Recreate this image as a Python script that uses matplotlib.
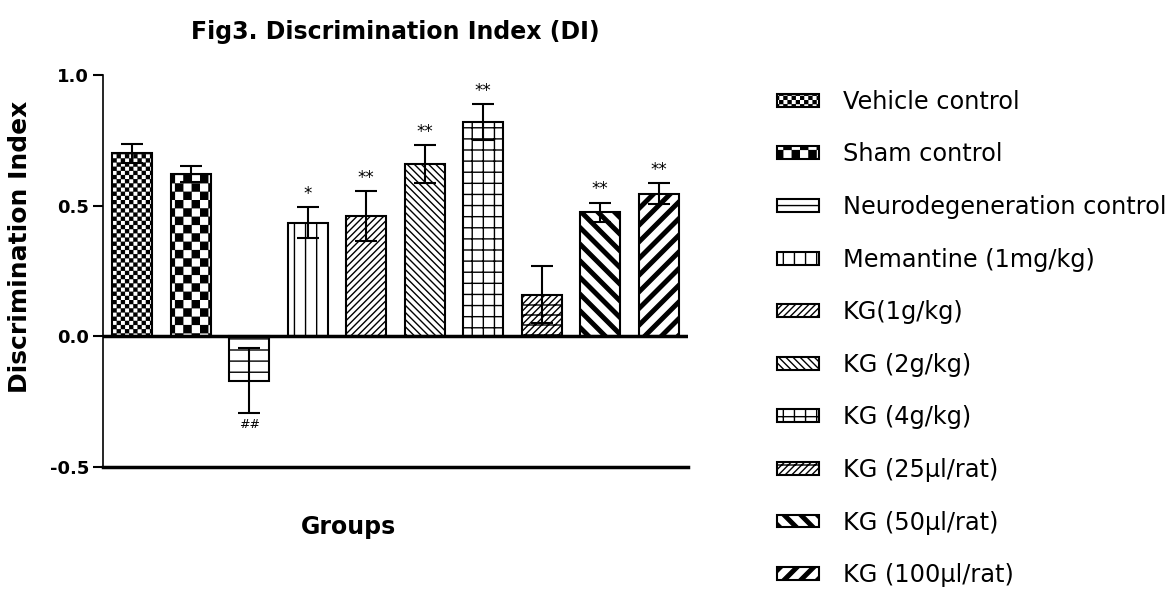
import warnings

import matplotlib
import matplotlib.pyplot as plt
import numpy as np
from matplotlib import hatch as mhatch
from matplotlib.path import Path

matplotlib.use("Agg")

# Group means and SEM of the discrimination index
GROUPS = [
    "Vehicle control",
    "Sham control",
    "Neurodegeneration control",
    "Memantine (1mg/kg)",
    "KG(1g/kg)",
    "KG (2g/kg)",
    "KG (4g/kg)",
    "KG (25\u03bcl/rat)",
    "KG (50\u03bcl/rat)",
    "KG (100\u03bcl/rat)",
]
DI_MEAN = [0.70, 0.62, -0.17, 0.435, 0.46, 0.66, 0.82, 0.16, 0.475, 0.545]
DI_SEM = [0.035, 0.03, 0.125, 0.06, 0.095, 0.073, 0.068, 0.11, 0.037, 0.04]
SIGNIF = ["", "", "##", "*", "**", "**", "**", "", "**", "**"]

# Fill pattern per group (letters are handled by CountedHatch below)
PATTERNS = [
    "c" * 24,
    "c" * 12,
    "h" * 9,
    "v" * 9,
    "f" * 15,
    "b" * 14,
    "h" * 9 + "v" * 9,
    "f" * 15 + "h" * 10,
    "s" * 6,
    "n" * 6,
]


def _counted_path(hatch):
    """Unit-cell path; every repeat of a letter adds one rule/cell per inch."""
    verts, codes = [], []

    def add(points, closed=False):
        verts.extend(points)
        codes.extend([Path.MOVETO] + [Path.LINETO] * (len(points) - 1))
        if closed:
            verts.append(points[0])
            codes.append(Path.CLOSEPOLY)

    n = hatch.count("h")
    for k in range(n):
        y = (k + 0.5) / n
        add([(0, y), (1, y)])
    n = hatch.count("v")
    for k in range(n):
        x = (k + 0.5) / n
        add([(x, 0), (x, 1)])
    n = hatch.count("f")
    if n:
        for k in range(-n, n + 1):
            add([(0, k / n), (1, 1 + k / n)])
    n = hatch.count("b")
    if n:
        for k in range(-n, n + 1):
            add([(0, 1 + k / n), (1, k / n)])

    # checkerboard: filled squares, inset a little for the hatch stroke
    n = hatch.count("c")
    e = 0.006
    for i in range(n):
        for j in range(n):
            if (i + j) % 2 == 0:
                x0, y0 = i / n + e, j / n + e
                x1, y1 = (i + 1) / n - e, (j + 1) / n - e
                add([(x0, y0), (x1, y0), (x1, y1), (x0, y1)], closed=True)

    # wide diagonal bands
    for letter, up in (("n", True), ("s", False)):
        n = hatch.count(letter)
        if not n:
            continue
        w = 0.3 / n
        for k in range(-n - 1, n + 1):
            c = k / n
            if up:
                add([(0, c), (1, 1 + c), (1, 1 + c + w), (0, c + w)], closed=True)
            else:
                add([(0, 1 + c), (1, c), (1, c + w), (0, 1 + c + w)], closed=True)

    if not verts:
        return Path(np.empty((0, 2)))
    return Path(np.asarray(verts, float), np.asarray(codes, dtype=Path.code_type))


class CountedHatch(mhatch.HatchPatternBase):
    def __init__(self, hatch, density):
        self.path = _counted_path(hatch)
        self.num_vertices = len(self.path.vertices)

    def set_vertices_and_codes(self, vertices, codes):
        vertices[:] = self.path.vertices
        codes[:] = self.path.codes


mhatch._hatch_types.append(CountedHatch)
warnings.filterwarnings("ignore", message="hatch must consist")

plt.rcParams.update(
    {
        "font.family": ["DejaVu Sans"],
        "hatch.linewidth": 1.0,
        "hatch.color": "black",
        "axes.linewidth": 1.2,
    }
)

fig = plt.figure(figsize=(11.73, 5.95), dpi=100)
ax = fig.add_axes([0.0878, 0.2151, 0.4987, 0.6588])

x = np.arange(len(GROUPS))
for i in range(len(GROUPS)):
    ax.bar(
        x[i],
        DI_MEAN[i],
        width=0.68,
        color="white",
        edgecolor="black",
        linewidth=1.5,
        hatch=PATTERNS[i],
        label=GROUPS[i],
        zorder=2,
    )

ax.errorbar(
    x,
    DI_MEAN,
    yerr=DI_SEM,
    fmt="none",
    ecolor="black",
    elinewidth=1.5,
    capsize=8,
    capthick=1.5,
    zorder=3,
)

for xi, m, s, mark in zip(x, DI_MEAN, DI_SEM, SIGNIF):
    if not mark:
        continue
    if m >= 0:
        ax.annotate(mark, (xi, m + s), xytext=(0, 3), textcoords="offset points",
                    ha="center", va="bottom", fontsize=12)
    else:
        ax.annotate(mark, (xi, m - s), xytext=(0, -3), textcoords="offset points",
                    ha="center", va="top", fontsize=9)

ax.axhline(0, color="black", linewidth=2.5, zorder=4)

ax.set_xlim(-0.5, 9.5)
ax.set_ylim(-0.5, 1.0)
ax.set_yticks([-0.5, 0.0, 0.5, 1.0])
ax.set_yticklabels(["-0.5", "0.0", "0.5", "1.0"], fontsize=13, fontweight="bold")
ax.set_xticks([])
ax.tick_params(axis="y", length=7, width=1.5, pad=3)
ax.spines["top"].set_visible(False)
ax.spines["right"].set_visible(False)
ax.spines["bottom"].set_linewidth(2.5)

ax.set_title("Fig3. Discrimination Index (DI)", fontsize=17, fontweight="bold", pad=26)
ax.set_ylabel("Discrimination Index", fontsize=18, fontweight="bold")
ax.yaxis.set_label_coords(-0.121, 0.561)
ax.set_xlabel("Groups", fontsize=17, fontweight="bold")
ax.xaxis.set_label_coords(0.419, -0.122)

fig.legend(
    loc="upper left",
    bbox_to_anchor=(0.662, 0.849),
    frameon=False,
    fontsize=17.3,
    handlelength=1.75,
    handleheight=0.45,
    handletextpad=1.0,
    labelspacing=1.19,
    borderpad=0,
    borderaxespad=0,
)

fig.savefig("out.png", dpi=100)
